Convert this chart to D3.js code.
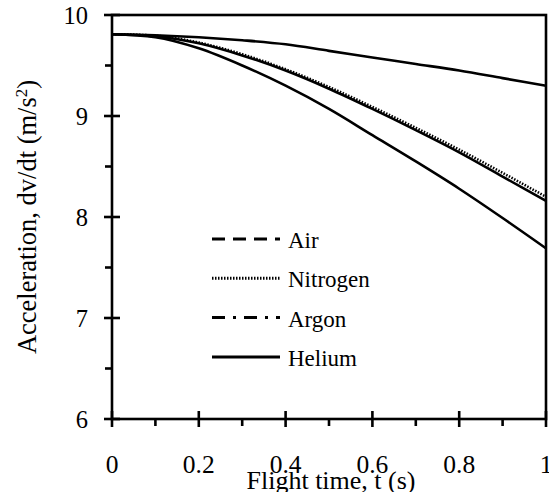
<!DOCTYPE html>
<html><head><meta charset="utf-8">
<script src="https://cdn.jsdelivr.net/npm/d3@7"></script>
<style>body{margin:0;background:#fff}svg{display:block}</style>
</head><body><svg id="c" width="549" height="492"></svg>
<script>
const times = [0,0.1,0.2,0.3,0.4,0.5,0.6,0.7,0.8,0.9,1.0];
const air      = [9.81,9.79,9.72,9.60,9.45,9.27,9.07,8.86,8.64,8.40,8.16];
const nitrogen = [9.81,9.795,9.727,9.612,9.463,9.287,9.09,8.883,8.667,8.437,8.20];
const argon    = [9.81,9.78,9.67,9.50,9.30,9.07,8.81,8.55,8.28,7.99,7.69];
const helium   = [9.81,9.80,9.78,9.75,9.71,9.645,9.58,9.515,9.45,9.375,9.30];
const seriesNames = ["Air","Nitrogen","Argon","Helium"];
const xTicks = [0,0.2,0.4,0.6,0.8,1];
const xTickLabels = ["0","0.2","0.4","0.6","0.8","1"];
const yTicks = [6,7,8,9,10];
const xLabel = "Flight time, t (s)";

const svg = d3.select("#c");
const L=112,R=546,T=15,B=419;
const x = d3.scaleLinear().domain([0,1]).range([L,R]);
const y = d3.scaleLinear().domain([6,10]).range([B,T]);
const sw = 2.6;
const txt = (sel,size)=>sel.append("text").style("font-family",'"Liberation Serif"').attr("font-size",size).attr("fill","#000");

svg.append("rect").attr("x",L).attr("y",T).attr("width",R-L).attr("height",B-T)
  .attr("fill","none").attr("stroke","#000").attr("stroke-width",sw);

const gx = svg.append("g");
xTicks.forEach(t=>{
  gx.append("line").attr("x1",x(t)).attr("x2",x(t)).attr("y1",B-8).attr("y2",B+8).attr("stroke","#000").attr("stroke-width",sw);
});
[0.1,0.3,0.5,0.7,0.9].forEach(t=>{
  gx.append("line").attr("x1",x(t)).attr("x2",x(t)).attr("y1",B).attr("y2",B+7).attr("stroke","#000").attr("stroke-width",sw);
});
xTicks.forEach((t,i)=>{
  txt(gx,25.5).attr("x",x(t)).attr("y",473).attr("text-anchor","middle").text(xTickLabels[i]);
});
yTicks.forEach(v=>{
  svg.append("line").attr("x1",L-8).attr("x2",L+8).attr("y1",y(v)).attr("y2",y(v)).attr("stroke","#000").attr("stroke-width",sw);
  txt(svg,24.5).attr("x",88).attr("y",y(v)+9).attr("text-anchor","end").text(v);
});
[6.5,7.5,8.5,9.5].forEach(v=>{
  svg.append("line").attr("x1",L-7).attr("x2",L).attr("y1",y(v)).attr("y2",y(v)).attr("stroke","#000").attr("stroke-width",sw);
});

txt(svg,26).attr("x",331).attr("y",489).attr("text-anchor","middle").text(xLabel);
const yl = txt(svg,26.5).attr("transform","translate(36,217) rotate(-90)").attr("text-anchor","middle");
yl.append("tspan").text("Acceleration, dv/dt (m/s");
yl.append("tspan").attr("dy",-9).attr("font-size",17).text("2");
yl.append("tspan").attr("dy",9).text(")");

const line = d3.line().x((d,i)=>x(times[i])).y(d=>y(d)).curve(d3.curveMonotoneX);
const plotStyles = [
  {data:air, dash:null},
  {data:nitrogen, dash:"1.5,1.5"},
  {data:argon, dash:null},
  {data:helium, dash:null}
];
plotStyles.forEach(s=>{
  svg.append("path").attr("d",line(s.data)).attr("fill","none").attr("stroke","#000")
    .attr("stroke-width",2.6).attr("stroke-dasharray",s.dash);
});

const legDash = ["13,8","1.5,1.5","13,8,3,8","none"];
seriesNames.forEach((n,i)=>{
  const yy = 239 + i*39.3;
  svg.append("line").attr("x1",212).attr("x2",280).attr("y1",yy).attr("y2",yy)
    .attr("stroke","#000").attr("stroke-width",3).attr("stroke-dasharray",legDash[i]==="none"?null:legDash[i]);
  txt(svg,23).attr("x",288).attr("y",yy+9).text(n);
});
</script></body></html>
